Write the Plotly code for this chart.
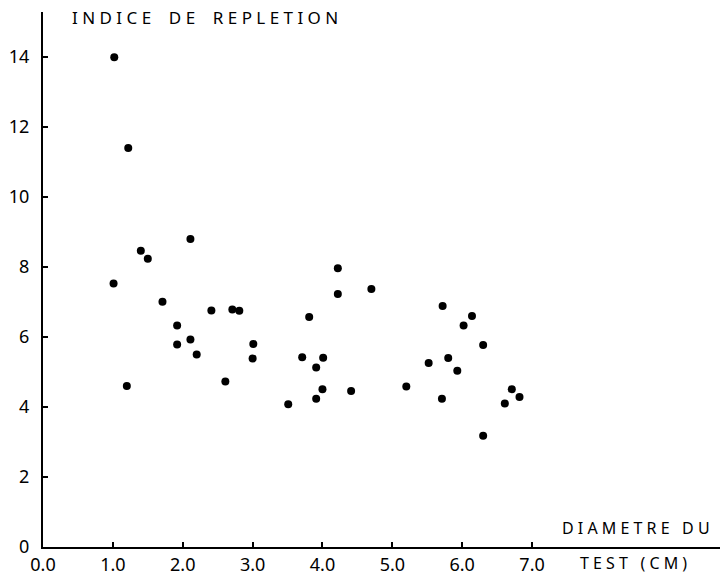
import plotly.graph_objects as go

# Diamètre du test (cm) and indice de réplétion
diametre = [1.02, 1.22, 1.01, 1.40, 1.50, 2.11, 1.20, 1.71, 1.92, 1.92,
            2.11, 2.20, 2.41, 2.61, 2.71, 2.81, 3.01, 3.00, 3.51, 3.71,
            3.81, 3.91, 3.91, 4.01, 4.00, 4.22, 4.22, 4.41, 4.70, 5.20,
            5.52, 5.72, 5.71, 5.80, 5.93, 6.02, 6.14, 6.30, 6.30, 6.61,
            6.71, 6.82]
indice = [14.0, 11.4, 7.53, 8.47, 8.24, 8.80, 4.60, 7.01, 6.33, 5.79,
          5.93, 5.50, 6.76, 4.73, 6.79, 6.75, 5.80, 5.39, 4.08, 5.42,
          6.57, 5.13, 4.24, 5.41, 4.51, 7.97, 7.23, 4.46, 7.37, 4.59,
          5.26, 6.89, 4.24, 5.40, 5.04, 6.33, 6.60, 5.77, 3.18, 4.10,
          4.51, 4.29]

x_ticks = [0, 1, 2, 3, 4, 5, 6, 7]
x_tick_labels = ["0.0", "1.0", "2.0", "3.0", "4.0", "5.0", "6.0", "7.0"]
y_ticks = [0, 2, 4, 6, 8, 10, 12, 14]
y_tick_labels = ["0", "2", "4", "6", "8", "10", "12", "14"]

y_title = "INDICE DE REPLETION"
x_title_1 = "DIAMETRE DU"
x_title_2 = "TEST (CM)"

def spaced(s, gap=4):
    words = s.split(" ")
    return ("\u00a0" * gap).join(" ".join(list(w)) for w in words)

FONT = "Noto Sans, DejaVu Sans, sans-serif"

fig = go.Figure()
fig.add_trace(go.Scatter(
    x=diametre, y=indice, mode="markers",
    marker=dict(color="black", size=8, line=dict(width=0)),
    showlegend=False, cliponaxis=False, hoverinfo="skip",
))

fig.update_layout(
    width=720, height=576,
    margin=dict(l=43, r=0, t=12, b=29, autoexpand=False),
    plot_bgcolor="white", paper_bgcolor="white",
    font=dict(family=FONT, size=17, color="black"),
    xaxis=dict(
        range=[0, 9.69], showgrid=False, zeroline=False,
        showline=True, linecolor="black", linewidth=2,
        ticks="inside", ticklen=5, tickwidth=2, tickcolor="black",
        tickvals=x_ticks, ticktext=x_tick_labels,
        tickfont=dict(family=FONT, size=18), automargin=False,
    ),
    yaxis=dict(
        range=[0, 15.29], showgrid=False, zeroline=False,
        showline=True, linecolor="black", linewidth=2,
        ticks="inside", ticklen=5, tickwidth=2, tickcolor="black",
        tickvals=y_ticks, ticktext=y_tick_labels,
        tickfont=dict(family=FONT, size=18), automargin=False,
        ticklabelstandoff=8,
    ),
)

fig.add_annotation(x=0.04, y=0.99, xref="paper", yref="paper", text=spaced(y_title),
                   showarrow=False, xanchor="left", yanchor="middle",
                   font=dict(family=FONT, size=17))
fig.add_annotation(x=0.764, y=0.0355, xref="paper", yref="paper", text=spaced(x_title_1, 3),
                   showarrow=False, xanchor="left", yanchor="middle",
                   font=dict(family=FONT, size=16))
fig.add_annotation(x=0.790, y=-0.030, xref="paper", yref="paper", text=spaced(x_title_2, 3),
                   showarrow=False, xanchor="left", yanchor="middle",
                   font=dict(family=FONT, size=16))

fig.write_html("out.html", config={"displayModeBar": False},
               post_script="document.body.style.margin='0';document.body.style.overflow='hidden';")
